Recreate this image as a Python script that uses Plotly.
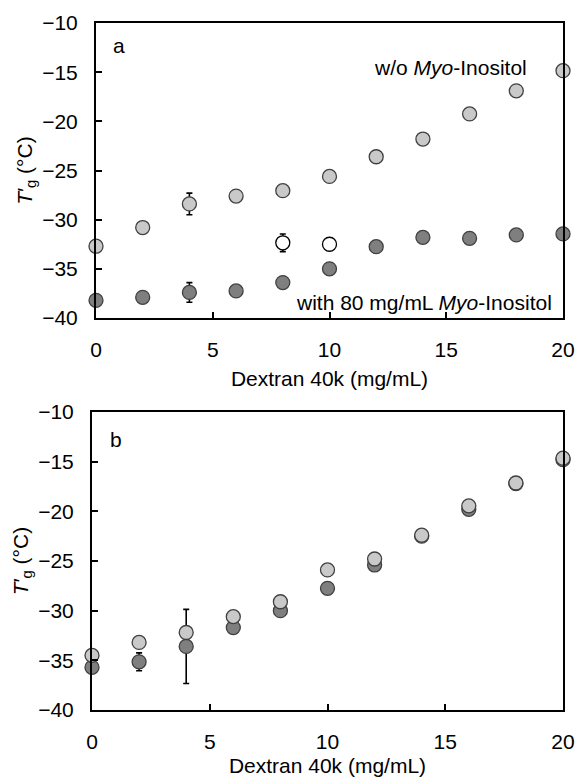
import plotly.graph_objects as go

dextran = [0, 2, 4, 6, 8, 10, 12, 14, 16, 18, 20]

# Panel a
a_without = [-32.7, -30.8, -28.4, -27.6, -27.05, -25.6, -23.6, -21.8, -19.25, -16.9, -14.85]
a_without_err = [0.3, 0.2, 1.1, 0.2, 0.2, 0.2, 0.5, 0.2, 0.2, 0.2, 0.2]
a_with = [-38.2, -37.9, -37.4, -37.25, -36.4, -35.0, -32.75, -31.8, -31.9, -31.55, -31.45]
a_with_err = [0.2, 0.2, 1.0, 0.2, 0.2, 0.2, 0.6, 0.2, 0.2, 0.2, 0.2]
open_x = [8, 10]
open_y = [-32.35, -32.5]
open_err = [0.9, 0.2]

# Panel b
b_light = [-34.5, -33.2, -32.2, -30.6, -29.1, -25.9, -24.8, -22.4, -19.45, -17.15, -14.65]
b_light_err = [0.3, 0.5, 0.3, 0.5, 0.3, 0.5, 0.5, 0.2, 0.2, 0.2, 0.3]
b_dark = [-35.7, -35.15, -33.6, -31.7, -30.0, -27.75, -25.4, -22.5, -19.8, -17.2, -14.8]
b_dark_err = [0.3, 0.9, 3.73, 0.3, 0.2, 0.2, 0.2, 0.2, 0.2, 0.2, 0.2]

yticks = [-40, -35, -30, -25, -20, -15, -10]
xticks = [0, 5, 10, 15, 20]

LIGHT = "#c9c9c9"
DARK = "#7f7f7f"
EDGE = "#404040"
FONT = "Liberation Sans, Arial, sans-serif"
FS = 21

fig = go.Figure()

def add(x, y, err, fill, xa, ya, edge=EDGE):
    fig.add_trace(go.Scatter(
        x=x, y=y, mode="markers", xaxis=xa, yaxis=ya, cliponaxis=False,
        marker=dict(size=14, color=fill, line=dict(color=edge, width=1.3)),
        error_y=dict(type="data", array=err, color="black", thickness=1.6, width=3),
        showlegend=False))

add(dextran, a_without, a_without_err, LIGHT, "x", "y")
add(dextran, a_with, a_with_err, DARK, "x", "y")
add(open_x, open_y, open_err, "white", "x", "y", edge="black")
add(dextran, b_dark, b_dark_err, DARK, "x2", "y2")
add(dextran, b_light, b_light_err, LIGHT, "x2", "y2")

W, H = 578, 778
ml, mr, mt, mb = 92, 15, 23, 68
pw = W - ml - mr
ph = H - mt - mb

axis_common = dict(showline=True, linecolor="black", linewidth=2, mirror=True,
                   ticks="inside", ticklen=6, tickwidth=2, tickcolor="black",
                   ticklabelstandoff=12, automargin=False,
                   showgrid=False, zeroline=False,
                   tickfont=dict(family=FONT, size=FS, color="black"))

ytitle = "<i>T</i>′<sub>g</sub> (°C)"
xtitle = "Dextran 40k (mg/mL)"

fig.update_layout(
    width=W, height=H, plot_bgcolor="white", paper_bgcolor="white",
    margin=dict(l=ml, r=mr, t=mt, b=mb),
    font=dict(family=FONT, size=FS, color="black"),
    xaxis=dict(domain=[(96 - ml) / pw, 1], range=[0, 20], tickvals=xticks, anchor="y",
               title=dict(text=xtitle, font=dict(size=FS), standoff=11), **axis_common),
    yaxis=dict(domain=[(710 - 318) / ph, 1], range=[-40, -10], tickvals=yticks, anchor="x",
               title=dict(text=ytitle, font=dict(size=FS), standoff=4), **axis_common),
    xaxis2=dict(domain=[0, 1], range=[0, 20], tickvals=xticks, anchor="y2",
                title=dict(text=xtitle, font=dict(size=FS), standoff=6), **axis_common),
    yaxis2=dict(domain=[0, (710 - 412) / ph], range=[-40, -10], tickvals=yticks, anchor="x2",
                title=dict(text=ytitle, font=dict(size=FS), standoff=4), **axis_common),
)

fig.add_annotation(x=1.0, y=-12.3, xref="x", yref="y", text="a", showarrow=False,
                   xanchor="center", font=dict(size=FS))
fig.add_annotation(x=18.54, y=-14.5, xref="x", yref="y", text="w/o <i>Myo</i>-Inositol",
                   showarrow=False, xanchor="right", font=dict(size=FS))
fig.add_annotation(x=14.03, y=-38.4, xref="x", yref="y", text="with 80 mg/mL <i>Myo</i>-Inositol",
                   showarrow=False, xanchor="center", font=dict(size=FS))
fig.add_annotation(x=1.0, y=-12.8, xref="x2", yref="y2", text="b", showarrow=False,
                   xanchor="center", font=dict(size=FS))

fig.write_html("out.html", config={"displayModeBar": False},
               post_script="document.body.style.margin='0';document.body.style.overflow='hidden';")
